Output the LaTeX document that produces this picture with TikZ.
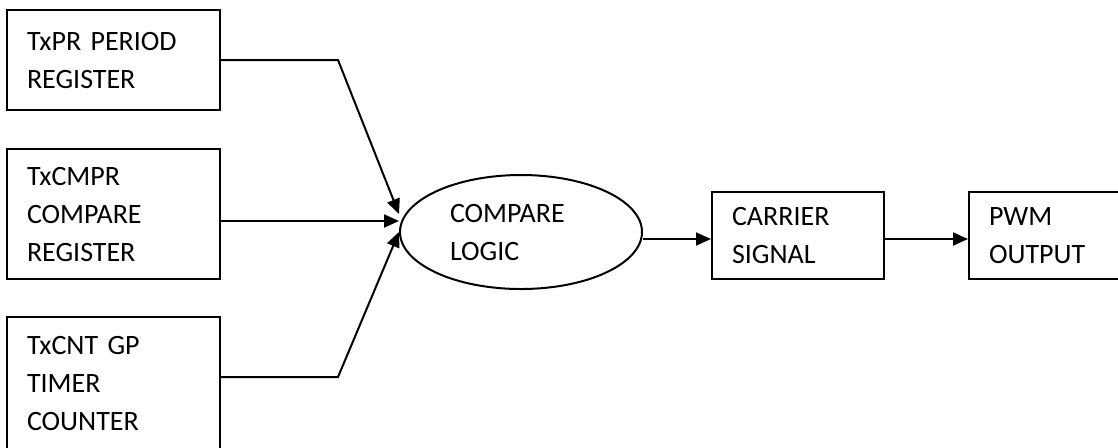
\documentclass[tikz,border=0pt]{standalone}
\usepackage{fontspec}
\setmainfont{Carlito}[WordSpace=0.8]
\usetikzlibrary{arrows.meta,positioning,shapes.geometric}

\begin{document}
\begin{tikzpicture}[x=0.5pt,y=-0.5pt,
    every node/.style={font=\fontsize{14}{19}\selectfont},
    reg/.style={draw,line width=1pt,minimum width=106.5pt,text width=86.5pt,inner xsep=10pt,align=left},
    blk/.style={draw,line width=1pt,minimum width=86pt,minimum height=43.5pt,text width=66pt,inner xsep=10pt,align=left},
    arr/.style={line width=1pt,-{Triangle[length=7.5pt,width=6.5pt]}}]

    \useasboundingbox (0,0) rectangle (1118,447);

    % registers feeding the comparator
    \node[reg,minimum height=50pt] (PERIOD) at (113.5,60) {TxPR PERIOD\\REGISTER};
    \node[reg,minimum height=65pt] (CMPR) at (113.5,214) {TxCMPR\\COMPARE\\REGISTER};
    \node[reg,minimum height=66.5pt] (CNT) at (113.5,383.5) {TxCNT GP\\TIMER\\COUNTER};

    \node[ellipse,draw,line width=1pt,inner sep=0pt,minimum width=121pt,minimum height=57pt,
          text width=71pt,align=left] (LOGIC) at (521,232) {COMPARE\\LOGIC};

    \node[blk] (CARRIER) at (798,235.5) {CARRIER\\SIGNAL};
    \node[blk] (PWM) [right=41.5pt of CARRIER] {PWM\\OUTPUT};

    \draw[arr] (PERIOD.east) -- ++(117,0) -- ([yshift=9pt]LOGIC.west);
    \draw[arr] ([yshift=-3.5pt]CMPR.east) -- ([yshift=5.5pt]LOGIC.west);
    \draw[arr] ([yshift=3.25pt]CNT.east) -- ++(117,0) -- (LOGIC.west);

    \draw[arr] ([yshift=-3.5pt]LOGIC.east) -- ([yshift=-1.75pt]CARRIER.west);
    \draw[arr] ([yshift=-1.75pt]CARRIER.east) -- ([yshift=-1.75pt]PWM.west);
\end{tikzpicture}
\end{document}
